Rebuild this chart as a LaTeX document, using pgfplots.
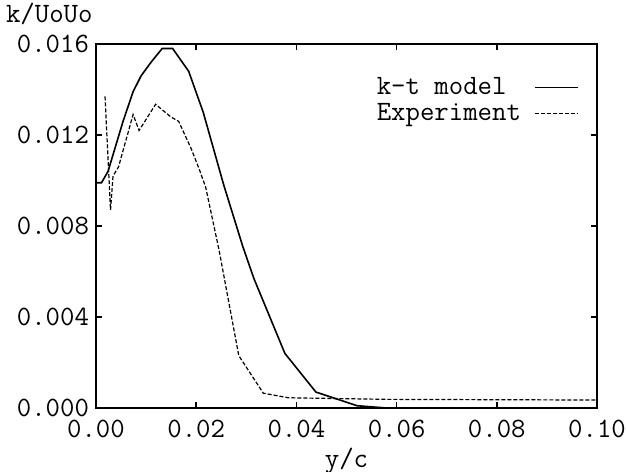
\documentclass[border=0pt]{standalone}
\usepackage{fontspec}
\usepackage{pgfplots}
\pgfplotsset{compat=1.18}

% k-t model vs experiment, k/UoUo over y/c
\newcommand{\chartfont}{\ttfamily\fontsize{14}{16}\selectfont}
\begin{document}
\begin{tikzpicture}
\begin{axis}[
    name=ax,
    scale only axis,
    width=250.5pt, height=182pt,
    xmin=0, xmax=0.1,
    ymin=0, ymax=0.016,
    scaled ticks=false,
    xtick={0,0.02,0.04,0.06,0.08,0.1},
    xticklabels={0.00,0.02,0.04,0.06,0.08,0.10},
    ytick={0,0.004,0.008,0.012,0.016},
    yticklabels={0.000,0.004,0.008,0.012,0.016},
    tick align=inside,
    tick pos=both,
    major tick length=3pt,
    tick style={black, line width=0.8pt},
    axis line style={line width=0.9pt},
    tick label style={font=\chartfont},
    x tick label style={yshift=-2.5pt},
    y tick label style={xshift=0pt},
    every axis y label/.style={at={(rel axis cs:0,1)}, anchor=west,
        xshift=-48.5pt, yshift=15pt, font=\chartfont},
    every axis x label/.style={at={(rel axis cs:0.5,0)}, anchor=center,
        yshift=-26.5pt, font=\chartfont},
    ylabel={k/UoUo},
    xlabel={y/c},
    legend plot pos=right,
    legend cell align=left,
    legend image code/.code={\draw[#1] (0pt,0pt) -- (21.5pt,0pt);},
    legend style={draw=none, fill=none, at={(rel axis cs:1,1)},
        anchor=north east, xshift=-6pt, yshift=-13pt,
        font=\chartfont, row sep=0pt, column sep=5pt,
        nodes={inner sep=1.5pt}},
]
\addplot[black, line width=0.8pt] coordinates {
    (0,0) (0,0.0099) (0.0011,0.0099) (0.0024,0.0104) (0.0054,0.0126)
    (0.0074,0.0139) (0.0090,0.0146) (0.0110,0.0152) (0.0132,0.0158)
    (0.0153,0.0158) (0.0185,0.0148) (0.0214,0.0130) (0.0255,0.0098)
    (0.0293,0.0071) (0.0315,0.0057) (0.0377,0.0024) (0.0439,0.0007)
    (0.0521,0.0001) (0.058,0.0) (0.1,0.0)
};
\addlegendentry{k-t model}
\addplot[black, line width=0.6pt, dash pattern=on 2pt off 1pt] coordinates {
    (0.0018,0.0137) (0.0029,0.0087) (0.0034,0.0102) (0.0045,0.0106)
    (0.0055,0.0114) (0.0064,0.0121) (0.0074,0.0129) (0.0086,0.0122)
    (0.0119,0.01335) (0.0149,0.0128) (0.0165,0.0126) (0.0190,0.0114)
    (0.0206,0.0105) (0.0219,0.0097) (0.0246,0.0069) (0.0285,0.0023)
    (0.0334,0.00065) (0.0384,0.00045) (0.058,0.00038) (0.1,0.00035)
};
\addlegendentry{Experiment}
\end{axis}
\pgfresetboundingbox
\path[use as bounding box] ([shift={(-48pt,-31.5pt)}]ax.south west)
    rectangle ([shift={(14.5pt,22pt)}]ax.north east);
\end{tikzpicture}
\end{document}
